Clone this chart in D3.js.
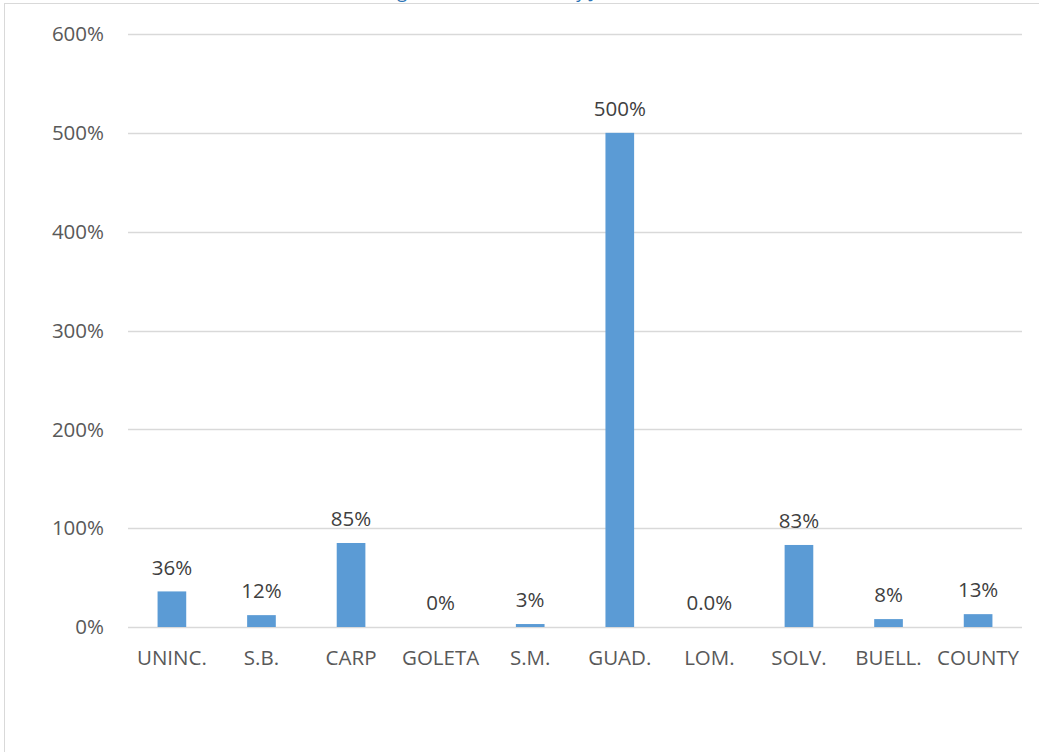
<!DOCTYPE html>
<html>
<head>
<meta charset="utf-8">
<script src="https://cdn.jsdelivr.net/npm/d3@7"></script>
<style>
  body { margin: 0; background: #fff; }
  svg { display: block; font-family: "Open Sans", sans-serif; }
</style>
</head>
<body>
<div id="container"></div>
<script>
/* CONSTANTS AND GLOBALS */
const width = 1039,
  height = 752,
  margin = { top: 34, bottom: 125, left: 128, right: 17 };

/* DATA */
const places = ['UNINC.', 'S.B.', 'CARP', 'GOLETA', 'S.M.', 'GUAD.', 'LOM.', 'SOLV.', 'BUELL.', 'COUNTY'];
const changes = [0.36, 0.12, 0.85, 0, 0.03, 5.0, 0, 0.83, 0.08, 0.13];
const labels = ['36%', '12%', '85%', '0%', '3%', '500%', '0.0%', '83%', '8%', '13%'];
const yTicks = [0, 1, 2, 3, 4, 5, 6];

const data = places.map((p, i) => ({ place: p, value: changes[i], label: labels[i] }));

const svg = d3.select("#container")
  .append("svg")
  .attr("width", width)
  .attr("height", height);

// chart border (runs off the right/bottom of the picture)
svg.append("rect")
  .attr("x", 4.5).attr("y", 3.5)
  .attr("width", 1100).attr("height", 800)
  .attr("fill", "none")
  .attr("stroke", "#d9d9d9");

// title, mostly cut off above the frame like in the source
svg.append("text")
  .attr("x", 338)
  .attr("y", -2)
  .attr("fill", "#2e75b6")
  .attr("font-size", 18)
  .text("Housing Units Added 2010 by Jurisdiction");

/* SCALES */
const xScale = d3.scaleBand()
  .domain(places)
  .range([margin.left, width - margin.right])
  .paddingInner(0.68)
  .paddingOuter(0.33);

const yScale = d3.scaleLinear()
  .domain([0, 6])
  .range([height - margin.bottom, margin.top]);

const fs = 20.5;

// gridlines
svg.append("g")
  .selectAll("line")
  .data(yTicks)
  .join("line")
  .attr("x1", margin.left)
  .attr("x2", width - margin.right)
  .attr("y1", d => Math.round(yScale(d)) + 0.5)
  .attr("y2", d => Math.round(yScale(d)) + 0.5)
  .attr("stroke", "#d9d9d9")
  .attr("stroke-width", 1.3);

// y tick labels
svg.append("g")
  .selectAll("text")
  .data(yTicks)
  .join("text")
  .attr("x", 104)
  .attr("y", d => yScale(d))
  .attr("dy", "0.35em")
  .attr("text-anchor", "end")
  .attr("fill", "#595959")
  .attr("font-size", fs)
  .text(d => d3.format(".0%")(d));

// bars
svg.selectAll("rect.bar")
  .data(data)
  .join("rect")
  .attr("class", "bar")
  .attr("x", d => xScale(d.place))
  .attr("width", xScale.bandwidth())
  .attr("y", d => yScale(d.value))
  .attr("height", d => yScale(0) - yScale(d.value))
  .attr("fill", "#5b9bd5");

// value labels
svg.selectAll("text.val")
  .data(data)
  .join("text")
  .attr("class", "val")
  .attr("x", d => xScale(d.place) + xScale.bandwidth() / 2)
  .attr("y", d => yScale(d.value) - 24)
  .attr("dy", "0.35em")
  .attr("text-anchor", "middle")
  .attr("fill", "#404040")
  .attr("font-size", fs)
  .text(d => d.label);

// x axis labels
svg.selectAll("text.cat")
  .data(places)
  .join("text")
  .attr("class", "cat")
  .attr("x", d => xScale(d) + xScale.bandwidth() / 2)
  .attr("y", yScale(0) + 31)
  .attr("dy", "0.35em")
  .attr("text-anchor", "middle")
  .attr("fill", "#595959")
  .attr("font-size", fs)
  .text(d => d);
</script>
</body>
</html>
